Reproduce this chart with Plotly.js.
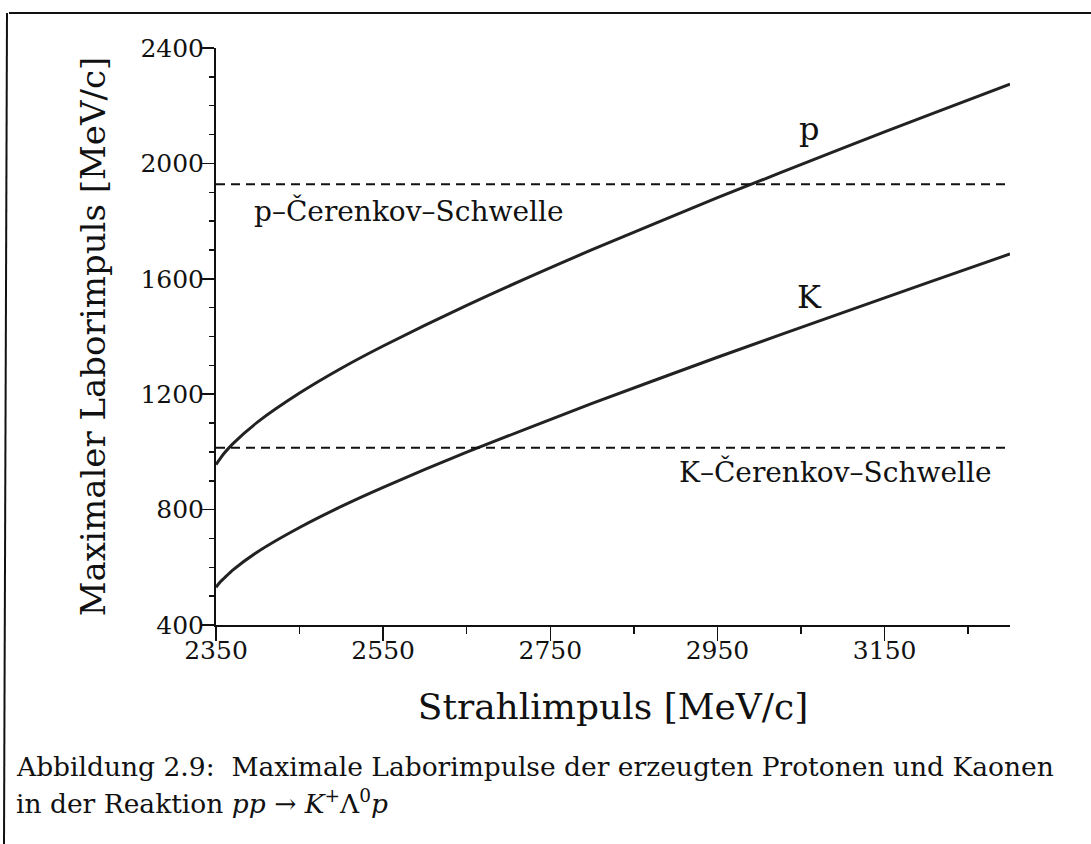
<!DOCTYPE html>
<html>
<head>
<meta charset="utf-8">
<script src="https://cdn.plot.ly/plotly-3.0.1.min.js"></script>
<style>
html,body{margin:0;padding:0;background:#fff;}
#chart{width:1091px;height:844px;}
</style>
</head>
<body>
<div id="chart"></div>
<script>
// Beam momentum [MeV/c]
const beamMomentum = [2350, 2355, 2360, 2370, 2400, 2450, 2500, 2550, 2650, 2800, 2950, 3100, 3200, 3300];
// Maximum lab momentum of protons and kaons [MeV/c]
const protonMax = [956, 977, 996, 1028, 1104, 1204, 1290, 1367, 1508, 1701, 1881, 2053, 2165, 2275];
const kaonMax   = [531, 549, 563, 590, 654, 738, 811, 877, 999, 1168, 1328, 1483, 1585, 1686];
// Cherenkov thresholds [MeV/c]
const thresholdX = [2350, 3300];
const protonThreshold = 1928;
const kaonThreshold = 1014;
// Axis ticks
const xTickVals = [2350, 2550, 2750, 2950, 3150];
const xTickText = ['2350', '2550', '2750', '2950', '3150'];
const yTickVals = [400, 800, 1200, 1600, 2000, 2400];
const yTickText = ['400', '800', '1200', '1600', '2000', '2400'];
const xRange = [2350, 3300];
const yRange = [400, 2400];

const FONT = 'DejaVu Serif, serif';
const INK = '#111111';

const traces = [
  {x: beamMomentum, y: protonMax, type: 'scatter', mode: 'lines', name: 'p',
   line: {color: '#222', width: 3, shape: 'spline', smoothing: 0.6}},
  {x: beamMomentum, y: kaonMax, type: 'scatter', mode: 'lines', name: 'K',
   line: {color: '#222', width: 3, shape: 'spline', smoothing: 0.6}},
  {x: thresholdX, y: thresholdX.map(() => protonThreshold), type: 'scatter', mode: 'lines',
   name: 'p-Schwelle', line: {color: INK, width: 2, dash: '9px,6px'}},
  {x: thresholdX, y: thresholdX.map(() => kaonThreshold), type: 'scatter', mode: 'lines',
   name: 'K-Schwelle', line: {color: INK, width: 2, dash: '9px,6px'}}
];

const L = 216, R = 1010, T = 48, B = 625;
const pw = R - L, ph = B - T;
const px = v => (v - L) / pw;      // pixel -> paper x
const py = v => (B - v) / ph;      // pixel -> paper y

const layout = {
  width: 1091, height: 844,
  margin: {l: L, r: 1091 - R, t: T, b: 844 - B, pad: 0},
  paper_bgcolor: '#fff', plot_bgcolor: '#fff',
  showlegend: false,
  font: {family: FONT, color: INK},
  xaxis: {
    range: xRange, showgrid: false, zeroline: false,
    showline: true, linecolor: INK, linewidth: 2,
    tickmode: 'array', tickvals: xTickVals, ticktext: xTickText,
    ticks: 'outside', ticklen: 14, tickwidth: 1.5, tickcolor: INK,
    minor: {tickmode: 'linear', tick0: 2350, dtick: 100, ticks: 'outside', ticklen: 7, tickwidth: 1.5, tickcolor: INK, showgrid: false},
    tickfont: {family: FONT, size: 25, color: INK},
    ticklabelstandoff: -12,
    title: {text: 'Strahlimpuls [MeV/c]', font: {family: FONT, size: 36, color: INK}, standoff: 30}
  },
  yaxis: {
    range: yRange, showgrid: false, zeroline: false,
    showline: true, linecolor: INK, linewidth: 2,
    tickmode: 'array', tickvals: yTickVals, ticktext: yTickText,
    ticks: 'outside', ticklen: 12, tickwidth: 1.5, tickcolor: INK,
    minor: {tickmode: 'linear', tick0: 400, dtick: 100, ticks: 'outside', ticklen: 5, tickwidth: 1.5, tickcolor: INK, showgrid: false},
    tickfont: {family: FONT, size: 25, color: INK},
    ticklabelstandoff: -7,
    title: {text: 'Maximaler Laborimpuls [MeV/c]', font: {family: FONT, size: 34, color: INK}, standoff: 24}
  },
  xaxis2: {
    overlaying: 'x', side: 'top', anchor: 'y', range: xRange,
    showgrid: false, zeroline: false, showline: true, linecolor: INK, linewidth: 2,
    tickmode: 'linear', tick0: 2350, dtick: 100,
    ticks: 'inside', ticklen: 12, tickwidth: 1.5, tickcolor: INK, showticklabels: false
  },
  yaxis2: {
    overlaying: 'y', side: 'right', anchor: 'x', range: yRange,
    showgrid: false, zeroline: false, showline: true, linecolor: INK, linewidth: 2,
    tickmode: 'linear', tick0: 400, dtick: 400,
    ticks: 'inside', ticklen: 12, tickwidth: 1.5, tickcolor: INK, showticklabels: false,
    minor: {tickmode: 'linear', tick0: 400, dtick: 100, ticks: 'inside', ticklen: 7, tickwidth: 1.5, tickcolor: INK, showgrid: false}
  },
  annotations: [
    {x: 3060, y: 2120, xref: 'x', yref: 'y', text: 'p', showarrow: false,
     font: {family: FONT, size: 32, color: INK}},
    {x: 3060, y: 1537, xref: 'x', yref: 'y', text: 'K', showarrow: false,
     font: {family: FONT, size: 32, color: INK}},
    {x: 2393, y: 1835, xref: 'x', yref: 'y', xanchor: 'left', text: 'p–Čerenkov–Schwelle', showarrow: false,
     font: {family: FONT, size: 28, color: INK}},
    {x: 3280, y: 930, xref: 'x', yref: 'y', xanchor: 'right', text: 'K–Čerenkov–Schwelle', showarrow: false,
     font: {family: FONT, size: 28, color: INK}},
    {x: px(14), y: py(766), xref: 'paper', yref: 'paper', xanchor: 'left', yanchor: 'middle',
     text: 'Abbildung 2.9:  Maximale Laborimpulse der erzeugten Protonen und Kaonen', showarrow: false,
     font: {family: FONT, size: 26.5, color: INK}},
    {x: px(14), y: py(802), xref: 'paper', yref: 'paper', xanchor: 'left', yanchor: 'middle',
     text: 'in der Reaktion <i>pp</i> → <i>K</i><sup>+</sup>Λ<sup>0</sup><i>p</i>', showarrow: false,
     font: {family: FONT, size: 26.5, color: INK}}
  ],
  shapes: [
    {type: 'line', xref: 'paper', yref: 'paper', x0: px(9), x1: px(1091), y0: py(13), y1: py(13),
     line: {color: INK, width: 2}},
    {type: 'line', xref: 'paper', yref: 'paper', x0: px(7), x1: px(4), y0: py(13), y1: py(844),
     line: {color: INK, width: 2}}
  ]
};

Plotly.newPlot('chart', traces, layout, {displayModeBar: false, staticPlot: true});
</script>
</body>
</html>
